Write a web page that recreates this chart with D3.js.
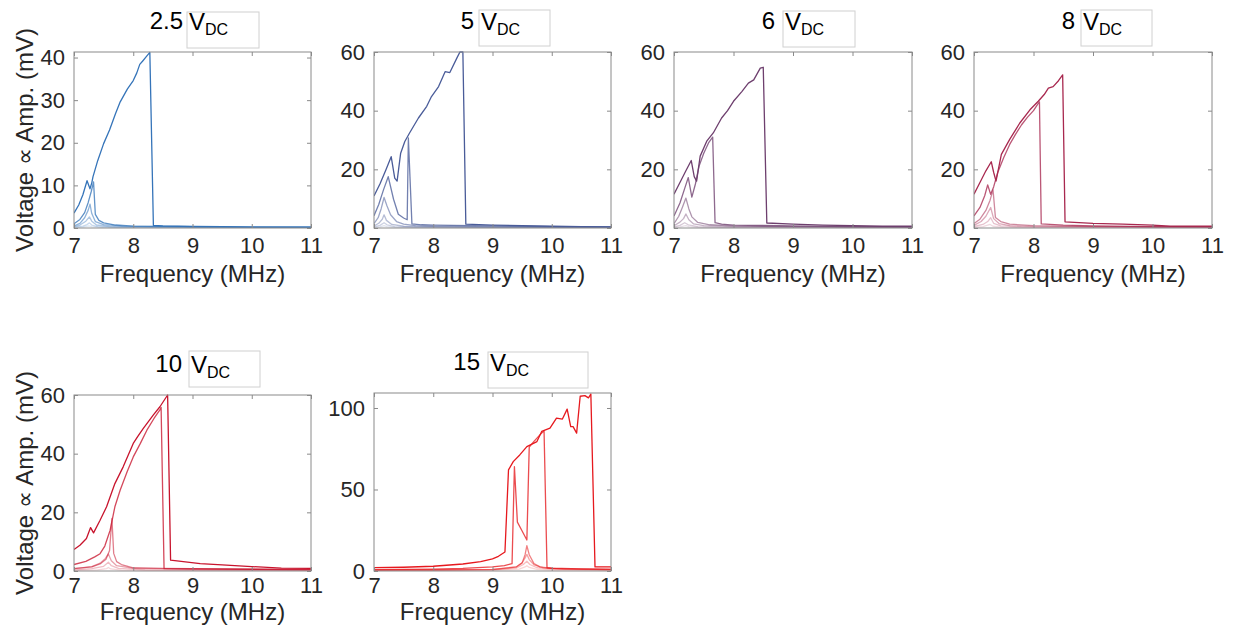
<!DOCTYPE html>
<html>
<head>
<meta charset="utf-8">
<script src="https://cdn.jsdelivr.net/npm/d3@7"></script>
<style>
  html, body { margin: 0; padding: 0; background: #fff; }
  svg { display: block; font-family: "Liberation Sans", Arial, sans-serif; }
</style>
</head>
<body>
<svg id="fig" width="1234" height="636"></svg>
<script>
// Drive-voltage panels: title value, trace colour, y range and y ticks
const biasLabels = ["2.5", "5", "6", "8", "10", "15"];
const traceColors = ["#3574b9", "#4a5c99", "#6e3f6e", "#a8284f", "#c8142d", "#e6191e"];
const yMaxima = [41.3, 60, 60, 60, 60, 109.2];
const yTickSets = [[0, 10, 20, 30, 40], [0, 20, 40, 60], [0, 20, 40, 60], [0, 20, 40, 60], [0, 20, 40, 60], [0, 50, 100]];
const xTickValues = [7, 8, 9, 10, 11];
const freqDomain = [7, 11];

// Frequency sweeps [MHz, mV], weakest drive first, strongest last
const sweeps2p5 = [
  [[7,0.1],[7.15,0.2],[7.25,0.5],[7.3,0.3],[7.5,0.1],[8,0.05],[11,0.02]],
  [[7,0.2],[7.15,0.45],[7.22,0.8],[7.26,1.2],[7.3,0.7],[7.4,0.3],[7.7,0.15],[8.5,0.08],[11,0.05]],
  [[7,0.3],[7.1,0.7],[7.2,1.6],[7.26,2.6],[7.3,1.6],[7.38,0.7],[7.6,0.35],[8.2,0.2],[11,0.1]],
  [[7,0.5],[7.1,1.1],[7.18,2.4],[7.24,4.2],[7.27,5.6],[7.3,3.4],[7.36,1.5],[7.5,0.8],[7.8,0.45],[8.5,0.3],[11,0.15]],
  [[7,1.0],[7.1,2.0],[7.18,3.6],[7.24,6.0],[7.29,8.5],[7.33,10.8],[7.36,3.2],[7.42,1.8],[7.5,1.2],[7.7,0.7],[8,0.45],[9,0.3],[10,0.2],[11,0.2]],
  [[7,3.5],[7.08,5.4],[7.15,7.8],[7.22,11.1],[7.27,9.2],[7.3,10.6],[7.32,12],[7.4,15.8],[7.5,19.8],[7.6,23],[7.7,26.8],[7.78,29.6],[7.9,32.6],[8.0,34.6],[8.06,36.4],[8.11,38.4],[8.16,39.2],[8.22,40.2],[8.28,41.2],[8.34,0.6],[8.5,0.5],[9,0.35],[9.5,0.3],[10,0.2],[10.5,0.2],[11,0.2]]
];
const sweeps5 = [
  [[7,0.2],[7.1,0.4],[7.17,0.8],[7.22,0.5],[7.35,0.2],[8,0.1],[11,0.05]],
  [[7,0.4],[7.1,0.9],[7.17,1.8],[7.22,1.1],[7.35,0.5],[7.7,0.25],[11,0.1]],
  [[7,0.7],[7.08,1.6],[7.14,3.0],[7.17,4.5],[7.21,2.6],[7.3,1.2],[7.5,0.6],[8,0.35],[11,0.2]],
  [[7,1.5],[7.07,3.5],[7.12,6.5],[7.17,10.4],[7.22,7.5],[7.28,4.5],[7.38,2.2],[7.5,1.3],[7.7,0.8],[8,0.6],[9,0.4],[11,0.25]],
  [[7,4.2],[7.08,8],[7.16,13],[7.24,17.5],[7.33,9.8],[7.41,4.7],[7.5,3.4],[7.56,2.8],[7.58,30.7],[7.64,1.4],[7.8,1.1],[8,1.0],[9,0.7],[10,0.45],[11,0.35]],
  [[7,10.9],[7.1,15],[7.2,19.8],[7.29,24.3],[7.35,17],[7.39,16],[7.45,25.5],[7.52,29.5],[7.6,32.4],[7.75,37.5],[7.89,41.5],[7.97,44.8],[8.09,48.2],[8.2,53.3],[8.28,53],[8.4,58],[8.45,60],[8.5,60],[8.55,1.3],[9,1.0],[9.5,0.8],[10,0.6],[10.5,0.45],[11,0.4]]
];
const sweeps6 = [
  [[7,0.2],[7.1,0.4],[7.2,0.8],[7.25,0.5],[7.4,0.2],[8,0.1],[11,0.05]],
  [[7,0.4],[7.1,0.9],[7.18,1.8],[7.24,1.1],[7.4,0.5],[7.8,0.25],[11,0.12]],
  [[7,0.8],[7.1,2.0],[7.16,3.2],[7.2,4.8],[7.25,2.8],[7.33,1.4],[7.5,0.8],[8,0.5],[11,0.25]],
  [[7,1.5],[7.08,4],[7.14,7],[7.2,10.2],[7.25,6.5],[7.3,3.8],[7.4,1.9],[7.6,1.1],[8,0.7],[9,0.5],[11,0.3]],
  [[7,4.1],[7.1,8.5],[7.18,13.5],[7.24,17.2],[7.3,10.5],[7.36,15],[7.42,21],[7.5,25.5],[7.58,29],[7.65,31],[7.69,1.8],[7.8,1.3],[8,1.0],[9,0.7],[10,0.45],[11,0.35]],
  [[7,11.5],[7.1,15.5],[7.2,19.5],[7.29,23],[7.34,17.5],[7.38,16],[7.44,24.5],[7.55,29.6],[7.66,32.4],[7.8,37.5],[7.9,40],[8.0,43.2],[8.14,46.5],[8.25,49.4],[8.34,50.5],[8.45,54.5],[8.5,54.8],[8.56,1.7],[9,1.3],[9.5,1.0],[10,0.8],[10.5,0.6],[11,0.6]]
];
const sweeps8 = [
  [[7,0.2],[7.15,0.5],[7.27,1.2],[7.32,0.6],[7.5,0.2],[8,0.1],[11,0.05]],
  [[7,0.5],[7.15,1.2],[7.23,2.2],[7.28,3.5],[7.33,1.6],[7.45,0.7],[7.8,0.35],[11,0.15]],
  [[7,0.9],[7.12,2.2],[7.2,4],[7.28,7],[7.33,3.2],[7.42,1.5],[7.6,0.8],[8,0.5],[11,0.3]],
  [[7,1.5],[7.1,3],[7.2,6],[7.27,9.5],[7.32,13],[7.36,3.6],[7.45,2.2],[7.6,1.3],[8,0.8],[9,0.5],[11,0.3]],
  [[7,4.1],[7.1,7],[7.18,11],[7.23,14.7],[7.28,11.5],[7.33,14],[7.4,19],[7.5,24],[7.6,28.5],[7.7,32],[7.8,35.2],[7.9,37.8],[8.0,40],[8.08,42.5],[8.1,43],[8.13,1.4],[8.5,1.0],[9,0.7],[10,0.5],[11,0.4]],
  [[7,11.5],[7.1,15.5],[7.2,19.5],[7.29,22.6],[7.33,19],[7.37,16],[7.46,25.1],[7.6,30.2],[7.77,35.8],[7.94,40.3],[8.08,43.2],[8.18,45.5],[8.25,47.7],[8.33,48.2],[8.42,50.2],[8.49,52.2],[8.53,2.1],[9,1.6],[9.5,1.3],[10,1.0],[10.3,0.6],[11,0.6]]
];
const sweeps10 = [
  [[7,0.2],[7.4,0.4],[7.55,0.8],[7.58,1.2],[7.62,0.7],[7.8,0.3],[8.5,0.15],[11,0.1]],
  [[7,0.4],[7.3,0.8],[7.5,1.6],[7.58,3.0],[7.63,1.8],[7.75,0.9],[8.2,0.4],[9,0.3],[11,0.2]],
  [[7,0.8],[7.3,1.5],[7.45,2.8],[7.53,4.3],[7.58,5.8],[7.63,3.5],[7.72,1.8],[8,0.9],[9,0.6],[11,0.4]],
  [[7,0.8],[7.3,1.4],[7.44,2.4],[7.54,4.0],[7.6,7],[7.64,17.9],[7.67,6],[7.72,3.2],[7.8,2.2],[8,1.1],[8.5,0.9],[9,0.8],[10,0.6],[11,0.5]],
  [[7,2.2],[7.2,3.3],[7.35,4.8],[7.44,5.9],[7.52,8.5],[7.61,13.9],[7.69,21.9],[7.78,27.6],[7.9,34],[8.0,38.9],[8.12,43.5],[8.23,48],[8.35,52],[8.45,54.9],[8.47,55.8],[8.52,0.8],[9,0.7],[10,0.6],[11,0.5]],
  [[7,7.3],[7.1,8.8],[7.21,11.1],[7.28,14.8],[7.33,13.0],[7.44,17.3],[7.55,21.9],[7.69,29.8],[7.83,35.5],[8.0,43.5],[8.08,46],[8.17,48.6],[8.34,53.2],[8.45,56],[8.58,60],[8.63,3.7],[9.13,2.5],[9.5,2.1],[10,1.5],[10.5,1.0],[11,0.9]]
];
const sweeps15 = [
  [[7,0.3],[9,0.5],[9.45,1.2],[9.55,2.5],[9.58,3.2],[9.62,2.2],[9.75,1.0],[10,0.6],[11,0.4]],
  [[7,0.4],[9,0.7],[9.4,1.8],[9.52,4],[9.58,6],[9.63,4],[9.75,2],[10,1.1],[11,0.6]],
  [[7,0.5],[9,0.9],[9.4,2.4],[9.5,5],[9.55,8],[9.58,10.2],[9.62,7],[9.7,3.8],[9.85,2],[10.2,1.2],[11,0.8]],
  [[7,0.5],[8,0.6],[9,1.0],[9.4,2.5],[9.5,5],[9.55,10],[9.58,15.5],[9.62,10],[9.7,4.5],[9.8,2.5],[10,1.6],[10.5,1.1],[11,0.9]],
  [[7,0.8],[8,1.2],[8.5,1.6],[9,2.5],[9.2,3.3],[9.33,4.5],[9.37,64],[9.42,30],[9.5,24.5],[9.58,19],[9.62,76],[9.7,79.5],[9.8,83.5],[9.87,86],[9.92,2.0],[10,1.7],[10.5,1.3],[11,1.1]],
  [[7,2.1],[7.5,2.3],[8,2.9],[8.5,4.3],[8.8,5.8],[9.0,7.5],[9.1,9],[9.21,11.7],[9.27,62],[9.35,67.1],[9.46,71.2],[9.58,76.3],[9.75,79.4],[9.83,85.6],[9.97,87.6],[10.08,93.8],[10.18,93.2],[10.26,99.3],[10.32,88.6],[10.36,88.6],[10.42,84.6],[10.48,107.2],[10.56,107.6],[10.62,106.2],[10.66,108.6],[10.73,2.5],[11,2.5]]
];
const sweepSets = [sweeps2p5, sweeps5, sweeps6, sweeps8, sweeps10, sweeps15];
// Shade of each sweep, weakest to strongest
const sweepOpacity = [0.18, 0.28, 0.4, 0.55, 0.78, 1.0];

// Page layout of the six axes (pixel boxes) and their title boxes
const layout = [
  { left: 74,  right: 311,  top: 52,  bottom: 228, tagLeft: 187,  tagTop: 12,  tagW: 72,  titleRight: 183,  tickPad: 9, xLabelBase: 282, yLabel: true },
  { left: 374, right: 611,  top: 52,  bottom: 228, tagLeft: 479,  tagTop: 10,  tagW: 71,  titleRight: 474,  tickPad: 9, xLabelBase: 282, yLabel: false },
  { left: 674, right: 912,  top: 52,  bottom: 228, tagLeft: 783,  tagTop: 11,  tagW: 72,  titleRight: 775,  tickPad: 9, xLabelBase: 282, yLabel: false },
  { left: 974, right: 1212, top: 52,  bottom: 228, tagLeft: 1081, tagTop: 10,  tagW: 71,  titleRight: 1075, tickPad: 9, xLabelBase: 282, yLabel: false },
  { left: 74,  right: 311,  top: 395, bottom: 571, tagLeft: 189,  tagTop: 351, tagW: 71,  titleRight: 182,  tickPad: 6, xLabelBase: 620, yLabel: true },
  { left: 374, right: 611,  top: 393, bottom: 571, tagLeft: 488,  tagTop: 352, tagW: 100, titleRight: 480,  tickPad: 6, xLabelBase: 620, yLabel: false }
];

const svg = d3.select("#fig");
const axisGrey = "#8a8a8a";
const textDark = "#262626";

layout.forEach((box, i) => {
  const x = d3.scaleLinear().domain(freqDomain).range([box.left, box.right]);
  const y = d3.scaleLinear().domain([0, yMaxima[i]]).range([box.bottom, box.top]);
  const g = svg.append("g");

  // traces, clipped to the axes box
  const clipId = "clip" + i;
  svg.append("clipPath").attr("id", clipId)
    .append("rect").attr("x", box.left).attr("y", box.top - 1)
    .attr("width", box.right - box.left).attr("height", box.bottom - box.top + 1);
  const line = d3.line().x(d => x(d[0])).y(d => y(d[1]));
  g.append("g").attr("clip-path", `url(#${clipId})`)
    .selectAll("path").data(sweepSets[i]).join("path")
    .attr("d", line)
    .attr("fill", "none")
    .attr("stroke", traceColors[i])
    .attr("stroke-opacity", (d, k) => sweepOpacity[k])
    .attr("stroke-width", 1.3)
    .attr("stroke-linejoin", "round");

  // axes with inward ticks on all four sides
  const styleAxis = sel => {
    sel.select(".domain").remove();
    sel.selectAll(".tick line").attr("stroke", axisGrey);
    sel.selectAll(".tick text").attr("fill", textDark)
      .style("font-size", "22px").style("font-family", "'Liberation Sans', Arial, sans-serif");
  };
  g.append("g").attr("transform", `translate(0,${box.bottom})`)
    .call(d3.axisBottom(x).tickValues(xTickValues).tickFormat(d3.format("d")).tickSizeInner(-4).tickSizeOuter(0).tickPadding(box.tickPad))
    .call(styleAxis);
  g.append("g").attr("transform", `translate(0,${box.top})`)
    .call(d3.axisTop(x).tickValues(xTickValues).tickFormat("").tickSizeInner(-4).tickSizeOuter(0))
    .call(styleAxis);
  g.append("g").attr("transform", `translate(${box.left},0)`)
    .call(d3.axisLeft(y).tickValues(yTickSets[i]).tickFormat(d3.format("d")).tickSizeInner(-4).tickSizeOuter(0).tickPadding(9))
    .call(styleAxis);
  g.append("g").attr("transform", `translate(${box.right},0)`)
    .call(d3.axisRight(y).tickValues(yTickSets[i]).tickFormat("").tickSizeInner(-4).tickSizeOuter(0))
    .call(styleAxis);

  g.append("rect")
    .attr("x", box.left).attr("y", box.top)
    .attr("width", box.right - box.left).attr("height", box.bottom - box.top)
    .attr("fill", "none").attr("stroke", axisGrey).attr("stroke-width", 1);

  // x label
  g.append("text")
    .attr("x", (box.left + box.right) / 2).attr("y", box.xLabelBase)
    .attr("text-anchor", "middle").attr("fill", textDark)
    .style("font-size", "24px")
    .text("Frequency (MHz)");

  // y label on the left column only
  if (box.yLabel) {
    g.append("text")
      .attr("transform", `translate(33,${(box.top + box.bottom) / 2}) rotate(-90)`)
      .attr("text-anchor", "middle").attr("fill", textDark)
      .style("font-size", "24px")
      .text("Voltage \u221D Amp. (mV)");
  }

  // title: bias value followed by a framed V_DC tag
  const titleBase = box.top - 23;
  g.append("text")
    .attr("x", box.titleRight).attr("y", titleBase)
    .attr("text-anchor", "end").attr("fill", "#000")
    .style("font-size", "24px")
    .text(biasLabels[i]);
  g.append("rect")
    .attr("x", box.tagLeft).attr("y", box.tagTop)
    .attr("width", box.tagW).attr("height", 36)
    .attr("fill", "#fff").attr("stroke", "#d0d0d0").attr("stroke-width", 1);
  const tag = g.append("text")
    .attr("x", box.tagLeft + 2).attr("y", titleBase + 1)
    .attr("fill", "#000").style("font-size", "24px");
  tag.append("tspan").text("V");
  tag.append("tspan").attr("dy", 5).style("font-size", "16px").text("DC");
});
</script>
</body>
</html>
